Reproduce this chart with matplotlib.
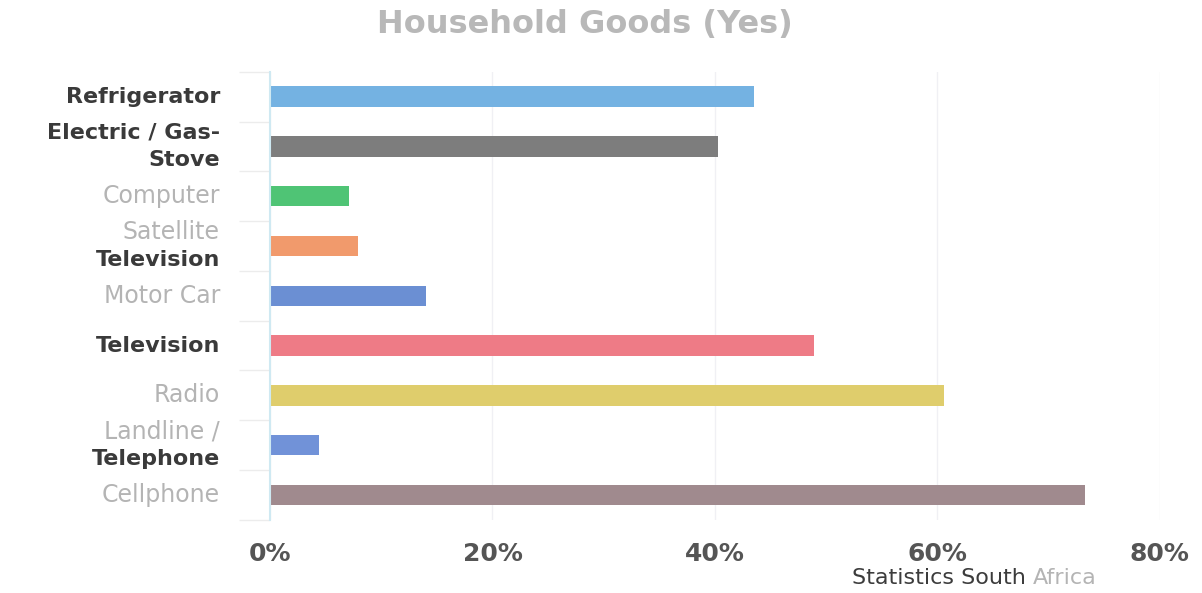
import matplotlib
matplotlib.use("Agg")
import matplotlib.pyplot as plt
from matplotlib.ticker import FuncFormatter
from matplotlib.transforms import blended_transform_factory

# household goods ownership, share of households answering "yes"
categories = ["Refrigerator", "Electric / Gas-Stove", "Computer", "Satellite Television",
              "Motor Car", "Television", "Radio", "Landline / Telephone", "Cellphone"]
label_lines = [
    [("Refrigerator", True)],
    [("Electric / Gas-", True), ("Stove", True)],
    [("Computer", False)],
    [("Satellite", False), ("Television", True)],
    [("Motor Car", False)],
    [("Television", True)],
    [("Radio", False)],
    [("Landline /", False), ("Telephone", True)],
    [("Cellphone", False)],
]
values = [43.5, 40.3, 7.1, 7.9, 14.0, 48.9, 60.6, 4.4, 73.3]
bar_colors = ["#74b2e2", "#7d7d7d", "#4fc475", "#f19a6c", "#6b8fd3",
              "#ee7b86", "#dfcd6c", "#7192d8", "#a08a8e"]
x_ticks = [0, 20, 40, 60, 80]

plt.rcParams["font.family"] = ["DejaVu Sans"]

fig = plt.figure(figsize=(12.02, 5.93), dpi=100)
ax = fig.add_axes([0.2246, 0.1235, 0.7404, 0.7555])

ypos = list(range(len(categories)))
ax.barh(ypos, values, height=0.41, color=bar_colors, zorder=2)

ax.set_xlim(0, 80)
ax.set_ylim(len(categories) - 0.5, -0.5)

# faint vertical grid
ax.set_xticks(x_ticks)
ax.xaxis.set_major_formatter(FuncFormatter(lambda v, p: f"{v:.0f}%"))
ax.grid(axis="x", color="#f0f0f4", linewidth=1, zorder=0)
ax.tick_params(axis="x", length=0, pad=16, labelsize=18, labelcolor="#555555")
for lbl in ax.get_xticklabels():
    lbl.set_fontweight("bold")

# category separators drawn as outward ticks on the left
ax.set_yticks([i + 0.5 for i in range(-1, len(categories))])
ax.set_yticklabels([])
ax.tick_params(axis="y", direction="out", length=22, width=1, color="#ececec")

for side in ["top", "right", "bottom"]:
    ax.spines[side].set_visible(False)
ax.spines["left"].set_color("#cfe9f2")
ax.spines["left"].set_linewidth(1.5)

trans = blended_transform_factory(ax.transAxes, ax.transData)
for i, lines in enumerate(label_lines):
    n = len(lines)
    for j, (txt, strong) in enumerate(lines):
        dy = (j - (n - 1) / 2) * -28
        ax.annotate(txt, xy=(0, i), xycoords=trans, xytext=(-50, dy),
                    textcoords="offset pixels", ha="right", va="center",
                    fontsize=16 if strong else 17,
                    fontweight="bold" if strong else "normal",
                    color="#3a3a3a" if strong else "#b4b4b4")

fig.text(585 / 1202, 1 - 25 / 593, "Household Goods (Yes)", ha="center", va="center",
         fontsize=23, fontweight="bold", color="#b8b8b8")

src = fig.text(852 / 1202, 1 - 578 / 593, "Statistics South", ha="left", va="center",
               fontsize=16, color="#3c3c3c")
ax.annotate("Africa", xy=(1, 0.5), xycoords=src, xytext=(7, 0),
            textcoords="offset pixels", ha="left", va="center",
            fontsize=16, color="#b4b4b4")

fig.savefig("out.png", dpi=100)
